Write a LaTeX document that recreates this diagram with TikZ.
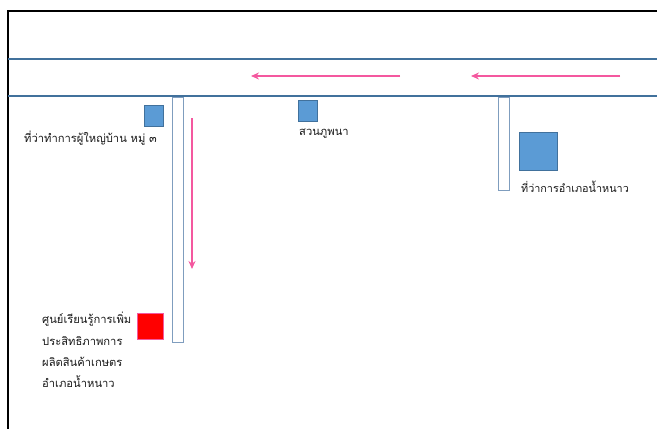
\documentclass[tikz,border=0pt]{standalone}
\usepackage{fontspec}
\newfontfamily\thaifont[Script=Thai]{Loma}
\usetikzlibrary{arrows.meta}
\definecolor{roadblue}{HTML}{41719C}
\definecolor{laneblue}{HTML}{7F9DBE}
\definecolor{fillblue}{HTML}{5B9BD5}
\definecolor{arrowpink}{HTML}{F4589F}
\tikzset{
  px/.style={x=1pt,y=-1pt},
  road/.style={draw=roadblue,line width=2pt},
  lane/.style={draw=laneblue,line width=1.4pt,fill=white,inner sep=0pt,minimum width=10.5pt,anchor=north west},
  bluebox/.style={draw=roadblue,line width=1pt,fill=fillblue,inner sep=0pt,anchor=north west},
  redbox/.style={draw=arrowpink,line width=0.8pt,fill=red,inner sep=0pt,minimum width=26pt,minimum height=26pt,anchor=north west},
  flow/.style={draw=arrowpink,line width=1.2pt,-{Stealth[length=8pt,width=7pt]}},
  lbl/.style={font=\thaifont\fontsize{11.2pt}{21.3pt}\selectfont,inner sep=0pt,anchor=west,align=left,text=black!90},
  frame/.style={draw=black,line width=2pt}
}
\begin{document}
\begin{tikzpicture}[px]
\useasboundingbox (0,0) rectangle (657,429);
\coordinate (fTL) at (7.5,11);
\coordinate (fTR) at (657,11);
\coordinate (fBL) at (7.5,429);
\draw[frame] (fTR) -- (fTL) -- (fBL);
\coordinate (r1a) at (8,58.5);
\coordinate (r1b) at (657,58.5);
\coordinate (r2a) at (8,96);
\coordinate (r2b) at (657,96);
\path[road] (r1a) -- (r1b);
\node[lane,minimum height=245pt] (laneA) at (172,96.5) {};
\node[lane,minimum height=93pt] (laneB) at (498,96.5) {};
\path[road] (r2a) -- (r2b);
\coordinate (a1s) at (400,76);
\coordinate (a1e) at (251,76);
\coordinate (a2s) at (620,76);
\coordinate (a2e) at (471,76);
\coordinate (a3s) at (192,118);
\coordinate (a3e) at (192,269);
\draw[flow] (a1s) -- (a1e);
\draw[flow] (a2s) -- (a2e);
\draw[flow] (a3s) -- (a3e);
\node[bluebox,minimum width=19pt,minimum height=21pt] (b1) at (143.7,105) {};
\node[bluebox,minimum width=19pt,minimum height=21pt] (b2) at (297.7,99.5) {};
\node[bluebox,minimum width=38pt,minimum height=38pt] (b3) at (518.5,132) {};
\node[redbox] (r1) at (136.5,313) {};
\node[lbl] (t1) at (24,138) {ที่ว่าทำการผู้ใหญ่บ้าน หมู่ ๓};
\node[lbl] (t2) at (299,134) {สวนภูพนา};
\node[lbl,font=\thaifont\fontsize{10.8pt}{21.3pt}\selectfont] (t3) at (521,187) {ที่ว่าการอำเภอน้ำหนาว};
\node[lbl,anchor=north west] (t4) at (42,312) {ศูนย์เรียนรู้การเพิ่ม\\ประสิทธิภาพการ\\ผลิตสินค้าเกษตร\\อำเภอน้ำหนาว};
\end{tikzpicture}
\end{document}
